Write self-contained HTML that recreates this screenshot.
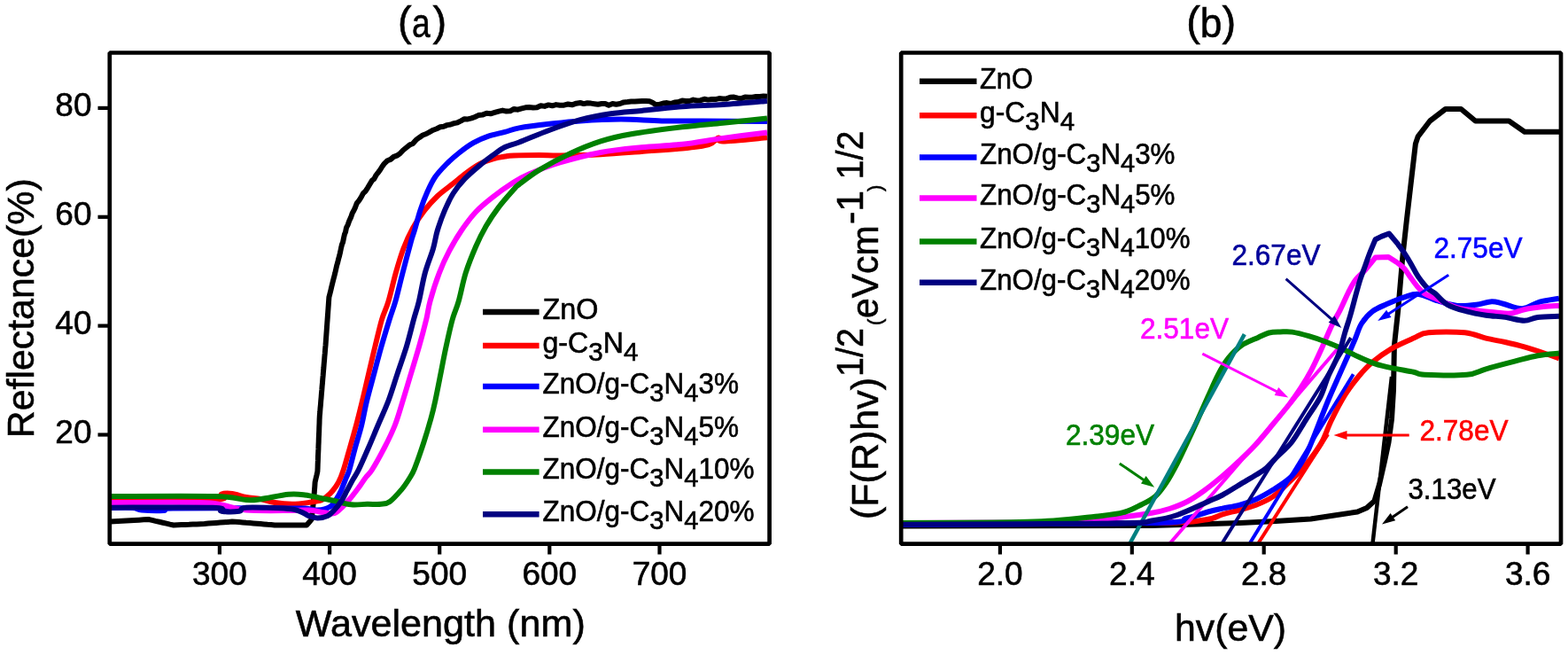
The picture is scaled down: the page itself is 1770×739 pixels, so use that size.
<!DOCTYPE html>
<html><head><meta charset="utf-8"><style>
html,body{margin:0;padding:0;background:#fff;overflow:hidden}
svg{display:block}
</style></head><body>
<svg width="1770" height="739" viewBox="0 0 1770 739"><rect width="1770" height="739" fill="#fff"/><defs><clipPath id="cl"><rect x="124" y="60" width="745" height="554"/></clipPath><clipPath id="cr"><rect x="1017" y="60" width="745" height="554"/></clipPath></defs><g clip-path="url(#cl)"><polyline points="124.0,588.5 128.6,588.2 133.2,588.0 137.8,587.8 142.4,587.5 147.0,587.2 151.6,587.0 156.9,586.7 162.2,586.3 167.5,586.0 171.6,586.9 175.6,587.9 179.7,588.8 183.8,589.7 187.9,590.6 191.9,591.6 196.0,592.5 200.3,592.3 204.7,592.1 209.0,591.9 213.3,591.8 217.7,591.6 222.0,591.4 226.4,591.2 230.7,591.0 235.2,590.6 239.6,590.3 244.1,589.9 248.6,589.6 253.1,589.2 257.5,588.9 262.0,588.5 266.0,588.8 270.0,589.1 274.0,589.4 278.0,589.8 282.0,590.1 286.0,590.4 290.0,590.7 294.0,591.0 298.0,591.4 302.0,591.8 306.0,592.1 310.0,592.5 314.0,592.5 318.0,592.5 322.0,592.5 326.0,592.5 330.0,592.5 334.0,592.5 338.1,592.5 342.1,592.5 346.1,592.5 349.0,589.2 351.8,585.9 352.3,581.3 352.7,576.7 353.2,572.1 353.7,567.6 354.1,563.0 354.6,558.4 354.9,553.7 355.3,548.9 355.6,544.2 356.5,540.1 357.5,536.0 358.4,531.9 358.6,527.7 358.7,523.6 358.9,519.4 359.0,515.2 359.2,511.0 359.4,506.9 359.5,502.7 359.7,498.5 359.8,494.3 360.0,490.2 360.2,486.0 360.3,481.8 360.5,477.6 360.6,473.5 360.8,469.3 361.2,465.1 361.5,460.9 361.9,456.7 362.2,452.6 362.6,448.4 362.9,444.2 363.3,440.0 363.6,435.8 364.0,431.6 364.3,427.5 364.7,423.3 365.0,419.1 365.4,414.9 365.7,410.7 366.1,406.5 366.4,402.4 366.8,398.2 367.1,394.0 367.5,389.8 367.8,385.6 368.1,381.4 368.4,377.2 368.7,373.0 369.0,368.8 369.3,364.6 369.6,360.5 369.9,356.3 370.2,352.1 370.5,347.9 370.8,343.7 371.1,339.5 371.4,335.3 372.4,331.4 373.4,327.4 374.3,323.5 375.3,319.6 376.3,315.6 377.3,311.7 378.3,307.8 379.2,303.9 380.2,299.4 381.2,296.1 382.2,291.8 383.2,288.4 384.1,284.5 385.1,279.5 386.1,275.5 387.1,273.2 388.1,268.1 389.0,264.2 390.0,261.8 391.0,256.8 392.7,253.6 394.3,249.0 396.0,245.4 397.7,240.5 399.4,237.5 401.0,234.1 402.7,229.4 405.2,226.3 407.6,222.6 410.1,217.9 412.6,215.7 415.1,211.8 417.5,207.7 420.0,203.6 422.3,201.8 424.6,197.5 426.9,194.6 429.2,191.5 431.5,187.7 433.8,184.6 437.3,181.3 440.9,179.9 444.4,176.9 447.9,175.7 451.5,173.3 455.0,169.5 458.7,166.5 462.3,163.6 466.0,162.0 469.6,157.9 473.3,155.2 477.2,152.5 481.2,151.0 485.1,148.8 489.0,146.7 493.0,145.2 496.9,143.3 500.8,142.7 504.7,141.1 508.7,140.5 512.6,139.2 516.5,138.3 520.4,136.4 524.3,134.2 528.2,134.4 532.2,133.4 536.1,132.0 540.0,130.1 544.6,129.6 549.2,127.8 553.8,128.3 558.4,126.9 563.0,125.6 567.3,124.6 571.6,125.6 575.9,125.3 580.2,122.9 584.6,123.7 588.9,122.4 593.2,121.3 597.5,121.0 601.8,121.5 606.1,121.3 610.4,119.2 614.8,119.9 619.1,118.4 623.4,119.3 627.7,118.1 632.0,118.8 636.6,118.7 641.2,117.5 645.8,118.3 650.4,116.7 655.0,116.0 659.0,117.1 663.0,116.2 667.1,116.6 671.1,117.2 675.1,117.8 679.2,117.0 683.2,116.9 687.2,118.7 691.4,117.0 695.6,117.8 699.9,117.0 704.1,115.4 708.3,115.0 712.5,114.5 716.6,114.6 720.8,114.3 724.9,114.0 729.1,113.9 733.2,114.3 736.6,115.7 740.0,117.9 744.3,117.9 748.6,116.5 752.9,116.1 757.1,117.0 761.4,115.5 765.7,115.1 770.0,113.5 774.2,114.0 778.4,114.0 782.5,112.6 786.7,113.5 790.9,113.2 795.1,111.8 799.3,112.6 803.5,112.0 807.6,112.1 811.8,111.1 816.0,111.5 820.2,111.4 824.3,109.8 828.5,109.6 832.7,110.7 836.8,111.1 841.0,109.5 845.2,109.7 849.3,109.8 853.5,109.0 857.7,108.9 861.8,108.6 866.0,108.8" fill="none" stroke="#000" stroke-width="6" stroke-linejoin="round" stroke-linecap="butt" /><path d="M124.0,564.0 C143.8,564.0 222.0,565.1 243.0,564.0 C264.0,562.9 246.8,558.7 250.0,557.5 C253.2,556.3 257.3,556.4 262.0,557.0 C266.7,557.6 272.7,560.0 278.0,561.0 C283.3,562.0 288.7,562.0 294.0,563.0 C299.3,564.0 304.0,566.0 310.0,567.0 C316.0,568.0 323.5,568.8 330.0,568.8 C336.5,568.8 343.4,567.7 348.9,566.9 C354.4,566.1 359.6,565.4 363.1,564.1 C366.6,562.9 367.7,561.1 369.8,559.4 C371.9,557.7 373.4,556.2 375.5,553.7 C377.6,551.2 380.1,548.2 382.1,544.2 C384.2,540.2 385.7,536.5 387.8,530.0 C389.9,523.5 392.6,513.3 395.0,505.0 C397.4,496.7 399.6,488.9 402.0,480.0 C404.4,471.1 406.7,461.6 409.1,451.8 C411.5,442.0 413.8,431.5 416.2,421.4 C418.6,411.2 420.9,401.0 423.4,390.9 C425.9,380.8 428.5,369.0 431.0,360.5 C433.5,352.0 435.9,348.7 438.5,339.9 C441.1,331.1 444.0,317.8 446.8,307.9 C449.6,298.0 452.3,288.7 455.5,280.3 C458.7,271.9 462.1,264.5 466.0,257.4 C469.9,250.2 474.6,243.4 479.2,237.4 C483.8,231.4 488.6,226.1 493.8,221.2 C499.0,216.3 504.7,212.5 510.1,208.2 C515.5,203.9 520.9,199.1 526.3,195.2 C531.7,191.2 537.5,187.2 542.6,184.5 C547.8,181.8 552.6,180.3 557.2,179.0 C561.8,177.7 566.2,177.1 570.0,176.5 C573.8,175.9 573.5,175.8 580.0,175.5 C586.5,175.2 600.3,175.0 609.0,175.0 C617.7,175.0 620.5,175.6 632.0,175.5 C643.5,175.4 662.7,175.1 678.0,174.3 C693.3,173.5 708.7,172.1 724.0,170.9 C739.3,169.8 757.3,168.7 770.0,167.4 C782.7,166.1 793.2,165.0 800.0,163.0 C806.8,161.0 808.3,156.1 811.0,155.5 C813.7,154.9 806.8,159.4 816.0,159.4 C825.2,159.4 857.7,156.0 866.0,155.3" fill="none" stroke="#f00" stroke-width="6" stroke-linejoin="round"/><path d="M124.0,573.0 C128.3,573.0 144.0,572.6 150.0,573.0 C156.0,573.4 154.2,575.0 160.0,575.5 C165.8,576.0 179.2,576.3 185.0,576.0 C190.8,575.7 170.8,573.9 195.0,573.5 C219.2,573.1 305.1,573.5 330.0,573.5 C354.9,573.5 339.5,573.3 344.2,573.6 C348.9,573.9 353.7,575.8 358.4,575.5 C363.1,575.2 369.0,573.9 372.6,571.7 C376.2,569.5 378.1,565.2 380.2,562.2 C382.2,559.2 383.2,557.5 384.9,553.7 C386.6,549.9 389.0,543.5 390.6,539.5 C392.2,535.5 392.7,535.8 394.4,530.0 C396.1,524.2 398.7,513.3 401.0,505.0 C403.3,496.7 405.9,488.9 408.1,480.0 C410.3,471.1 411.8,461.6 414.2,451.8 C416.6,442.0 419.6,431.5 422.3,421.4 C425.0,411.2 427.6,401.0 430.5,390.9 C433.4,380.8 437.0,369.0 439.6,360.5 C442.2,352.0 443.9,348.7 446.4,339.9 C448.9,331.1 451.6,319.0 454.5,307.9 C457.4,296.8 461.5,281.4 463.7,273.4 C465.9,265.4 466.1,266.0 467.9,260.0 C469.7,254.0 472.0,244.7 474.4,237.4 C476.8,230.1 479.7,222.5 482.5,216.3 C485.3,210.1 487.5,205.1 491.0,200.0 C494.5,194.9 499.1,190.1 503.6,185.5 C508.1,180.9 513.1,176.6 518.2,172.5 C523.3,168.4 529.0,164.2 534.4,161.1 C539.8,158.0 544.8,155.8 550.7,153.8 C556.6,151.8 564.1,150.5 570.0,148.9 C575.9,147.3 577.6,145.9 586.0,144.4 C594.4,142.9 609.0,141.1 620.5,139.8 C632.0,138.5 641.6,137.3 655.0,136.4 C668.4,135.5 685.7,134.6 701.0,134.6 C716.3,134.6 731.7,136.1 747.0,136.4 C762.3,136.7 773.2,136.3 793.0,136.4 C812.8,136.5 853.8,137.0 866.0,137.1" fill="none" stroke="#00f" stroke-width="6" stroke-linejoin="round"/><path d="M124.0,567.0 C140.8,567.0 204.0,566.6 225.0,567.0 C246.0,567.4 241.2,568.1 250.0,569.5 C258.8,570.9 264.7,574.4 278.0,575.5 C291.3,576.6 318.2,576.0 330.0,576.0 C341.8,576.0 342.9,575.1 348.9,575.5 C354.9,575.9 361.3,577.7 366.0,578.3 C370.7,578.9 373.8,580.3 377.3,579.2 C380.8,578.1 383.6,574.7 386.8,571.7 C390.0,568.7 393.1,565.1 396.3,561.3 C399.5,557.5 403.0,552.7 405.8,548.9 C408.6,545.1 410.6,541.6 413.0,538.5 C415.4,535.4 416.5,535.6 420.0,530.0 C423.5,524.4 429.7,513.3 434.0,505.0 C438.3,496.7 442.2,488.9 445.7,480.0 C449.2,471.1 451.8,461.6 454.8,451.8 C457.9,442.0 460.9,431.5 464.0,421.4 C467.1,411.2 470.2,401.0 473.1,390.9 C476.0,380.8 479.1,369.0 481.2,360.5 C483.3,352.0 483.1,348.7 485.5,339.9 C487.9,331.1 492.2,317.4 495.9,307.9 C499.5,298.3 503.2,290.6 507.4,282.6 C511.6,274.6 516.1,267.0 521.1,259.7 C526.1,252.4 531.5,245.1 537.2,239.0 C543.0,232.9 548.5,228.5 555.6,222.9 C562.7,217.3 573.0,210.1 580.0,205.6 C587.0,201.1 588.8,199.9 597.5,196.2 C606.2,192.5 618.6,187.5 632.0,183.5 C645.4,179.5 662.7,174.9 678.0,172.0 C693.3,169.1 708.7,167.8 724.0,166.3 C739.3,164.8 754.7,164.5 770.0,162.8 C785.3,161.1 800.0,158.1 816.0,155.9 C832.0,153.7 857.7,150.6 866.0,149.5" fill="none" stroke="#f0f" stroke-width="6" stroke-linejoin="round"/><path d="M124.0,560.0 C143.8,560.0 217.3,559.3 243.0,560.0 C268.7,560.7 269.5,563.5 278.0,564.0 C286.5,564.5 286.1,564.2 294.0,563.2 C301.9,562.2 317.3,558.5 325.7,557.7 C334.1,556.9 338.0,557.6 344.2,558.4 C350.4,559.1 357.6,561.1 363.1,562.2 C368.6,563.3 371.8,563.8 377.3,565.0 C382.8,566.2 390.1,568.7 396.3,569.3 C402.5,569.9 408.8,568.9 414.4,568.8 C420.0,568.7 425.7,569.3 430.0,568.8 C434.3,568.3 436.1,568.7 440.0,566.0 C443.9,563.3 449.4,556.9 453.1,552.6 C456.8,548.3 459.5,544.0 462.0,540.0 C464.5,536.0 465.2,535.6 467.9,528.8 C470.6,522.0 475.3,508.5 478.4,499.0 C481.5,489.5 484.3,479.9 486.5,472.0 C488.7,464.1 489.6,460.2 491.4,451.8 C493.2,443.4 495.5,431.5 497.5,421.4 C499.5,411.2 501.4,401.0 503.6,390.9 C505.8,380.8 508.3,369.0 510.7,360.5 C513.0,352.0 515.2,348.7 517.7,339.9 C520.2,331.1 522.5,318.2 525.7,307.9 C529.0,297.6 533.4,286.8 537.2,278.0 C541.0,269.2 544.5,262.4 548.7,255.1 C552.9,247.8 557.3,241.3 562.5,234.4 C567.7,227.5 576.1,218.1 580.0,213.7 C583.9,209.3 581.2,211.7 586.0,208.0 C590.8,204.3 599.4,197.4 609.0,191.6 C618.6,185.8 632.0,178.6 643.5,173.2 C655.0,167.8 666.5,163.1 678.0,159.4 C689.5,155.8 697.2,154.0 712.5,151.3 C727.8,148.6 752.8,145.4 770.0,143.3 C787.2,141.2 800.0,140.3 816.0,138.7 C832.0,137.1 857.7,134.4 866.0,133.6" fill="none" stroke="#008000" stroke-width="6" stroke-linejoin="round"/><path d="M124.0,572.7 C143.3,572.7 219.0,572.0 240.0,572.7 C261.0,573.4 245.0,576.0 250.0,576.7 C255.0,577.4 265.3,577.4 270.0,576.7 C274.7,576.0 268.8,573.2 278.0,572.7 C287.2,572.2 314.8,573.2 325.0,574.0 C335.2,574.8 335.5,575.9 339.5,577.3 C343.5,578.6 345.8,580.9 348.9,582.1 C352.0,583.3 354.9,584.5 358.4,584.5 C361.9,584.5 366.6,583.6 369.8,582.1 C373.0,580.6 374.8,578.2 377.3,575.5 C379.8,572.8 382.5,569.6 384.9,566.0 C387.3,562.4 389.4,557.8 391.6,553.7 C393.8,549.6 396.0,545.4 398.2,541.4 C400.4,537.4 401.8,536.1 404.8,530.0 C407.8,523.9 412.3,513.5 416.0,505.0 C419.7,496.5 423.2,487.9 427.0,479.0 C430.8,470.1 435.0,461.4 438.6,451.8 C442.2,442.2 445.3,431.5 448.7,421.4 C452.1,411.2 455.8,401.0 458.9,390.9 C461.9,380.8 464.7,369.0 467.0,360.5 C469.3,352.0 470.8,348.7 472.9,339.9 C475.0,331.1 477.1,317.8 479.8,307.9 C482.5,298.0 486.7,288.3 489.0,280.3 C491.3,272.3 491.6,267.1 493.8,260.0 C496.0,252.8 499.0,244.4 502.0,237.4 C505.0,230.4 507.9,223.9 511.7,218.0 C515.5,212.1 519.8,206.8 524.7,201.7 C529.6,196.5 535.8,191.4 540.9,187.1 C546.0,182.8 550.8,179.2 555.6,175.7 C560.5,172.2 564.9,168.5 570.0,166.0 C575.1,163.5 577.6,163.7 586.0,160.5 C594.4,157.3 609.0,150.9 620.5,146.7 C632.0,142.5 643.5,138.3 655.0,135.2 C666.5,132.1 678.0,130.0 689.5,128.3 C701.0,126.6 710.6,126.2 724.0,124.9 C737.4,123.6 754.7,121.5 770.0,120.3 C785.3,119.1 800.0,119.1 816.0,118.0 C832.0,116.9 857.7,114.6 866.0,113.9" fill="none" stroke="#000080" stroke-width="6" stroke-linejoin="round"/></g><g clip-path="url(#cr)"><polyline points="1019.0,593.5 1300.0,593.0 1400.0,590.0 1440.0,588.0 1479.6,585.5 1506.0,581.5 1532.3,577.5 1542.9,573.0 1551.5,565.1 1557.0,546.6 1563.0,520.3 1567.5,499.2 1571.0,472.8 1573.0,440.0 1573.9,390.0 1578.2,350.0 1583.3,290.0 1587.7,250.0 1592.5,208.3 1597.9,162.2 1600.6,154.1 1614.1,136.5 1631.7,123.0 1649.3,123.0 1665.5,136.5 1703.4,136.5 1721.0,148.7 1760.0,148.7" fill="none" stroke="#000" stroke-width="6" stroke-linejoin="round" stroke-linecap="butt" /><line x1="1549.5" y1="613" x2="1571" y2="425" stroke="#000" stroke-width="4.5"/><path d="M1019.0,590.5 C1065.8,590.4 1243.2,590.7 1300.0,590.0 C1356.8,589.3 1346.7,588.1 1360.0,586.5 C1373.3,584.9 1373.5,582.1 1380.0,580.3 C1386.5,578.5 1392.6,577.2 1398.9,575.5 C1405.2,573.8 1411.6,572.3 1417.9,569.8 C1424.2,567.3 1430.5,564.8 1436.8,560.4 C1443.1,556.0 1450.4,548.4 1455.8,543.3 C1461.2,538.2 1465.0,534.4 1469.0,530.0 C1473.0,525.6 1476.1,522.1 1480.0,516.8 C1483.9,511.5 1488.7,505.1 1492.5,498.0 C1496.3,490.9 1498.8,482.6 1503.0,474.0 C1507.2,465.4 1512.8,454.4 1517.9,446.2 C1523.0,438.0 1528.2,431.2 1533.4,425.0 C1538.6,418.8 1542.8,414.1 1549.0,408.8 C1555.2,403.5 1563.0,397.9 1570.8,393.3 C1578.6,388.8 1588.8,384.5 1595.7,381.5 C1602.7,378.5 1602.8,376.2 1612.5,375.2 C1622.2,374.1 1642.8,374.1 1653.6,375.2 C1664.4,376.3 1669.8,379.9 1677.4,381.7 C1685.0,383.5 1691.8,384.4 1699.0,386.0 C1706.2,387.6 1713.1,389.2 1720.7,391.4 C1728.3,393.6 1738.0,396.8 1744.5,399.0 C1751.0,401.2 1757.4,403.5 1760.0,404.4" fill="none" stroke="#f00" stroke-width="6" stroke-linejoin="round"/><line x1="1420.3" y1="613" x2="1499" y2="490" stroke="#f00" stroke-width="4"/><path d="M1019.0,592.0 C1065.8,591.7 1246.5,591.2 1300.0,590.0 C1353.5,588.8 1329.4,586.6 1340.0,584.5 C1350.6,582.4 1356.9,579.3 1363.6,577.5 C1370.3,575.7 1374.1,574.9 1380.0,573.6 C1385.9,572.3 1392.6,571.5 1398.9,569.8 C1405.2,568.1 1411.6,566.0 1417.9,563.2 C1424.2,560.4 1430.5,556.8 1436.8,552.8 C1443.1,548.8 1450.6,544.3 1455.8,539.5 C1461.0,534.7 1464.3,529.8 1468.0,524.0 C1471.7,518.2 1474.3,513.2 1478.0,505.0 C1481.7,496.8 1486.3,484.2 1490.0,475.0 C1493.7,465.8 1496.5,458.3 1500.0,450.0 C1503.5,441.7 1507.3,433.3 1511.0,425.0 C1514.7,416.7 1519.0,407.3 1522.2,400.0 C1525.4,392.7 1527.7,387.0 1530.2,381.2 C1532.7,375.4 1533.8,370.0 1537.0,365.0 C1540.2,360.0 1544.5,355.0 1549.2,351.4 C1553.9,347.8 1559.0,346.0 1565.0,343.3 C1571.0,340.6 1578.9,337.2 1585.0,335.3 C1591.1,333.4 1595.2,331.2 1601.6,331.9 C1608.0,332.6 1616.1,337.3 1623.3,339.5 C1630.5,341.7 1637.7,344.2 1644.9,344.9 C1652.1,345.6 1660.1,344.6 1666.6,343.8 C1673.1,343.0 1678.9,340.4 1683.9,340.2 C1689.0,340.0 1691.1,341.5 1696.9,342.8 C1702.7,344.1 1711.7,348.6 1718.5,348.2 C1725.3,347.8 1731.1,342.5 1738.0,340.6 C1744.9,338.7 1756.3,337.4 1760.0,336.7" fill="none" stroke="#00f" stroke-width="6" stroke-linejoin="round"/><line x1="1410.8" y1="613" x2="1527.7" y2="422.3" stroke="#00f" stroke-width="4"/><path d="M1019.0,590.0 C1040.8,589.9 1118.2,589.8 1150.0,589.5 C1181.8,589.2 1191.7,588.9 1210.0,588.0 C1228.3,587.1 1245.0,585.5 1260.0,584.0 C1275.0,582.5 1290.0,580.5 1300.0,578.8 C1310.0,577.1 1313.3,576.1 1320.0,574.0 C1326.7,571.9 1333.5,569.4 1340.0,566.0 C1346.5,562.6 1352.4,558.5 1359.0,553.7 C1365.6,549.0 1372.8,543.1 1379.5,537.5 C1386.2,531.9 1392.6,526.1 1399.0,520.0 C1405.4,513.9 1411.7,507.9 1418.0,501.0 C1424.3,494.1 1430.8,486.0 1437.0,478.5 C1443.2,471.0 1450.2,462.8 1455.5,456.0 C1460.8,449.2 1464.4,443.8 1468.5,437.5 C1472.6,431.2 1476.1,425.6 1480.0,418.2 C1483.9,410.8 1488.2,401.4 1492.0,393.0 C1495.8,384.6 1499.7,374.8 1503.1,367.7 C1506.5,360.6 1509.4,356.4 1512.6,350.1 C1515.8,343.8 1519.2,335.5 1522.1,329.8 C1525.0,324.1 1527.0,320.1 1530.0,316.0 C1533.0,311.9 1536.5,309.7 1540.3,305.5 C1544.0,301.3 1550.5,293.1 1552.5,290.6 L1567.4,289.9 L1576.8,296.0 C1578.2,297.1 1582.5,300.1 1585.0,302.8 C1587.5,305.5 1589.2,308.8 1591.7,312.2 C1594.2,315.6 1597.1,319.9 1599.8,323.1 C1602.5,326.3 1604.6,328.9 1608.0,331.2 C1611.4,333.4 1613.8,334.0 1620.0,336.6 C1626.2,339.2 1637.1,344.8 1644.9,347.1 C1652.7,349.4 1659.4,349.4 1666.6,350.3 C1673.8,351.2 1681.7,351.9 1688.2,352.5 C1694.7,353.1 1700.1,354.2 1705.5,353.6 C1710.9,353.1 1714.6,350.5 1720.7,349.2 C1726.8,347.9 1735.8,346.7 1742.3,346.0 C1748.8,345.3 1757.0,345.1 1760.0,344.9" fill="none" stroke="#f0f" stroke-width="6" stroke-linejoin="round"/><line x1="1320.7" y1="613" x2="1509.5" y2="394" stroke="#f0f" stroke-width="4"/><path d="M1019.0,590.0 C1035.8,589.9 1091.7,589.9 1120.0,589.5 C1148.3,589.1 1169.6,588.6 1189.0,587.5 C1208.4,586.4 1223.3,584.2 1236.5,582.7 C1249.7,581.2 1259.3,580.5 1268.0,578.2 C1276.7,576.0 1282.7,572.2 1288.7,569.2 C1294.7,566.2 1299.5,564.0 1304.2,559.9 C1308.9,555.8 1312.6,550.5 1316.7,544.3 C1320.8,538.1 1325.2,529.8 1329.0,522.5 C1332.8,515.2 1335.8,508.5 1339.5,500.7 C1343.2,492.9 1347.0,484.6 1351.0,475.8 C1355.0,467.0 1359.5,456.6 1363.5,447.8 C1367.5,439.0 1371.2,430.2 1375.0,422.9 C1378.8,415.6 1382.2,409.6 1386.5,404.2 C1390.8,398.8 1395.1,394.1 1400.7,390.2 C1406.3,386.3 1414.7,383.3 1420.0,380.9 C1425.3,378.4 1428.2,376.6 1432.4,375.5 C1436.6,374.4 1440.6,374.6 1445.0,374.5 C1449.4,374.4 1453.3,373.8 1458.7,374.6 C1464.1,375.4 1471.2,377.4 1477.4,379.2 C1483.6,381.0 1489.9,383.1 1496.1,385.5 C1502.3,387.9 1508.5,390.4 1514.7,393.3 C1520.9,396.2 1527.2,399.8 1533.4,402.6 C1539.6,405.5 1545.9,408.3 1552.1,410.4 C1558.3,412.5 1563.5,413.6 1570.8,415.1 C1578.1,416.7 1589.5,418.4 1595.7,419.7 C1601.9,421.0 1598.1,422.3 1608.1,422.8 C1618.1,423.3 1644.2,423.9 1655.7,422.8 C1667.2,421.7 1668.4,418.8 1677.4,416.3 C1686.4,413.8 1700.1,410.2 1709.8,407.7 C1719.5,405.2 1727.4,402.7 1735.8,401.2 C1744.2,399.7 1756.0,399.0 1760.0,398.6" fill="none" stroke="#008000" stroke-width="6" stroke-linejoin="round"/><line x1="1275.5" y1="613" x2="1404.8" y2="377.2" stroke="#008080" stroke-width="4.5"/><path d="M1019.0,591.7 C1059.2,591.5 1213.2,591.2 1260.0,590.5 C1306.8,589.8 1288.5,589.1 1300.0,587.5 C1311.5,585.9 1318.4,584.6 1329.0,581.0 C1339.6,577.4 1355.1,569.8 1363.6,566.0 C1372.1,562.2 1374.1,561.6 1380.0,558.5 C1385.9,555.4 1392.6,550.9 1398.9,547.1 C1405.2,543.3 1412.9,538.9 1417.9,535.8 C1423.0,532.6 1425.2,531.7 1429.2,528.2 C1433.2,524.7 1437.2,519.9 1442.0,515.0 C1446.8,510.1 1452.6,505.9 1458.0,499.0 C1463.4,492.1 1468.9,482.0 1474.3,473.4 C1479.7,464.8 1486.4,455.8 1490.6,447.6 C1494.8,439.4 1496.1,431.9 1499.5,424.0 C1502.9,416.1 1507.9,408.0 1511.0,400.0 C1514.1,392.0 1515.8,383.5 1518.0,376.0 C1520.2,368.5 1522.5,362.0 1524.5,355.0 C1526.5,348.0 1528.4,340.5 1530.2,333.8 C1532.0,327.1 1533.8,320.5 1535.6,314.9 C1537.4,309.3 1539.3,304.8 1541.0,300.0 C1542.7,295.2 1544.1,290.9 1546.0,286.0 C1547.9,281.1 1551.4,272.9 1552.5,270.3 L1559.2,266.9 L1568.0,263.5 L1578.2,275.7 C1579.3,277.3 1582.8,281.8 1585.0,285.2 C1587.2,288.6 1589.5,292.2 1591.7,296.0 C1594.0,299.8 1596.5,304.8 1598.5,308.2 C1600.5,311.6 1601.7,313.4 1603.9,316.3 C1606.2,319.2 1609.3,323.3 1612.0,325.8 C1614.7,328.3 1616.3,328.2 1620.0,331.2 C1623.7,334.2 1628.1,340.4 1634.1,343.8 C1640.0,347.2 1648.5,349.4 1655.7,351.4 C1662.9,353.4 1670.2,354.6 1677.4,355.7 C1684.6,356.8 1691.8,356.9 1699.0,357.9 C1706.2,358.9 1714.6,361.8 1720.7,361.8 C1726.8,361.8 1729.2,358.7 1735.8,357.9 C1742.3,357.1 1756.0,357.0 1760.0,356.8" fill="none" stroke="#000080" stroke-width="6" stroke-linejoin="round"/><line x1="1379.5" y1="613" x2="1524.9" y2="381.1" stroke="#000080" stroke-width="4"/></g><rect x="123.8" y="59.5" width="744.8" height="554.2" fill="none" stroke="#000" stroke-width="4.7" stroke-linejoin="bevel"/><rect x="1017.2" y="59.5" width="744.8" height="554.2" fill="none" stroke="#000" stroke-width="4.7" stroke-linejoin="bevel"/><line x1="247.9" y1="615" x2="247.9" y2="625.5" stroke="#000" stroke-width="4.2"/><line x1="372.1" y1="615" x2="372.1" y2="625.5" stroke="#000" stroke-width="4.2"/><line x1="496.2" y1="615" x2="496.2" y2="625.5" stroke="#000" stroke-width="4.2"/><line x1="620.3" y1="615" x2="620.3" y2="625.5" stroke="#000" stroke-width="4.2"/><line x1="744.5" y1="615" x2="744.5" y2="625.5" stroke="#000" stroke-width="4.2"/><line x1="110.5" y1="490.5" x2="122" y2="490.5" stroke="#000" stroke-width="4.2"/><line x1="110.5" y1="367.6" x2="122" y2="367.6" stroke="#000" stroke-width="4.2"/><line x1="110.5" y1="244.8" x2="122" y2="244.8" stroke="#000" stroke-width="4.2"/><line x1="110.5" y1="121.9" x2="122" y2="121.9" stroke="#000" stroke-width="4.2"/><line x1="1128.9" y1="615" x2="1128.9" y2="625.5" stroke="#000" stroke-width="4.2"/><line x1="1277.8" y1="615" x2="1277.8" y2="625.5" stroke="#000" stroke-width="4.2"/><line x1="1426.7" y1="615" x2="1426.7" y2="625.5" stroke="#000" stroke-width="4.2"/><line x1="1575.7" y1="615" x2="1575.7" y2="625.5" stroke="#000" stroke-width="4.2"/><line x1="1724.6" y1="615" x2="1724.6" y2="625.5" stroke="#000" stroke-width="4.2"/><g font-family="'Liberation Sans', Arial, sans-serif" fill="#000" stroke="#000" stroke-width="0.6"><text x="247.9" y="659.5" font-size="37" text-anchor="middle">300</text><text x="372.1" y="659.5" font-size="37" text-anchor="middle">400</text><text x="496.2" y="659.5" font-size="37" text-anchor="middle">500</text><text x="620.3" y="659.5" font-size="37" text-anchor="middle">600</text><text x="744.5" y="659.5" font-size="37" text-anchor="middle">700</text><text x="103.5" y="500.0" font-size="37" text-anchor="end">20</text><text x="103.5" y="377.1" font-size="37" text-anchor="end">40</text><text x="103.5" y="254.3" font-size="37" text-anchor="end">60</text><text x="103.5" y="131.4" font-size="37" text-anchor="end">80</text><text x="1128.9" y="659.5" font-size="37" text-anchor="middle">2.0</text><text x="1277.8" y="659.5" font-size="37" text-anchor="middle">2.4</text><text x="1426.7" y="659.5" font-size="37" text-anchor="middle">2.8</text><text x="1575.7" y="659.5" font-size="37" text-anchor="middle">3.2</text><text x="1724.6" y="659.5" font-size="37" text-anchor="middle">3.6</text><g stroke="#000" stroke-width="0.6"><text x="448.9" y="40.3" font-size="47" >(</text><text x="465" y="42" font-size="47" textLength="20.7" lengthAdjust="spacingAndGlyphs">a</text><text x="488.4" y="40.3" font-size="47" >)</text><text x="1339.3" y="40.3" font-size="47" >(</text><text x="1354.8" y="41.8" font-size="47" textLength="24.6" lengthAdjust="spacingAndGlyphs">b</text><text x="1379.6" y="40.3" font-size="47" >)</text></g><text x="333.8" y="717.8" font-size="43" textLength="327" lengthAdjust="spacingAndGlyphs">Wavelength (nm)</text><text x="1326" y="723.4" font-size="43" textLength="126" lengthAdjust="spacingAndGlyphs">hv(eV)</text><text transform="translate(37.8,494.3) rotate(-90)" font-size="43" textLength="293" lengthAdjust="spacingAndGlyphs">Reflectance(%)</text><g transform="translate(991,586) rotate(-90)"><text x="0" y="0" font-size="43" textLength="160" lengthAdjust="spacingAndGlyphs">(F(R)hv)</text><text x="161" y="-17" font-size="43" textLength="55" lengthAdjust="spacingAndGlyphs">1/2</text><text x="219" y="4" font-size="22">(</text><text x="227" y="0" font-size="43" textLength="104.5" lengthAdjust="spacingAndGlyphs">eVcm</text><text x="333" y="-17" font-size="43">-1</text><text x="370" y="4" font-size="22">)</text><text x="383.5" y="-17" font-size="43" textLength="55" lengthAdjust="spacingAndGlyphs">1/2</text></g></g><g font-family="'Liberation Sans', Arial, sans-serif" fill="#000" stroke="#000" stroke-width="0.6"><line x1="545" y1="352.0" x2="608.6" y2="352.0" stroke="#000" stroke-width="6.5"/><text x="612.5" y="359.8" font-size="32.5" textLength="63" lengthAdjust="spacingAndGlyphs"><tspan dy="0">ZnO</tspan></text><line x1="545" y1="389.9" x2="608.6" y2="389.9" stroke="#f00" stroke-width="6.5"/><text x="612.5" y="397.7" font-size="32.5" textLength="108" lengthAdjust="spacingAndGlyphs"><tspan dy="0">g-C</tspan><tspan font-size="30" dy="9">3</tspan><tspan dy="-9">N</tspan><tspan font-size="30" dy="9">4</tspan></text><line x1="545" y1="436.0" x2="608.6" y2="436.0" stroke="#00f" stroke-width="6.5"/><text x="612.5" y="443.8" font-size="32.5" textLength="221.5" lengthAdjust="spacingAndGlyphs"><tspan dy="0">ZnO/g-C</tspan><tspan font-size="30" dy="9">3</tspan><tspan dy="-9">N</tspan><tspan font-size="30" dy="9">4</tspan><tspan dy="-9">3%</tspan></text><line x1="545" y1="484.8" x2="608.6" y2="484.8" stroke="#f0f" stroke-width="6.5"/><text x="612.5" y="492.6" font-size="32.5" textLength="221.5" lengthAdjust="spacingAndGlyphs"><tspan dy="0">ZnO/g-C</tspan><tspan font-size="30" dy="9">3</tspan><tspan dy="-9">N</tspan><tspan font-size="30" dy="9">4</tspan><tspan dy="-9">5%</tspan></text><line x1="545" y1="532.5" x2="608.6" y2="532.5" stroke="#008000" stroke-width="6.5"/><text x="612.5" y="540.3" font-size="32.5" textLength="239" lengthAdjust="spacingAndGlyphs"><tspan dy="0">ZnO/g-C</tspan><tspan font-size="30" dy="9">3</tspan><tspan dy="-9">N</tspan><tspan font-size="30" dy="9">4</tspan><tspan dy="-9">10%</tspan></text><line x1="545" y1="580.2" x2="608.6" y2="580.2" stroke="#000080" stroke-width="6.5"/><text x="612.5" y="588" font-size="32.5" textLength="239" lengthAdjust="spacingAndGlyphs"><tspan dy="0">ZnO/g-C</tspan><tspan font-size="30" dy="9">3</tspan><tspan dy="-9">N</tspan><tspan font-size="30" dy="9">4</tspan><tspan dy="-9">20%</tspan></text><line x1="1038" y1="91.7" x2="1102.5" y2="91.7" stroke="#000" stroke-width="6.5"/><text x="1106" y="99.5" font-size="32.5" textLength="60" lengthAdjust="spacingAndGlyphs"><tspan dy="0">ZnO</tspan></text><line x1="1038" y1="130.2" x2="1102.5" y2="130.2" stroke="#f00" stroke-width="6.5"/><text x="1106" y="138" font-size="32.5" textLength="107" lengthAdjust="spacingAndGlyphs"><tspan dy="0">g-C</tspan><tspan font-size="30" dy="9">3</tspan><tspan dy="-9">N</tspan><tspan font-size="30" dy="9">4</tspan></text><line x1="1038" y1="177.5" x2="1102.5" y2="177.5" stroke="#00f" stroke-width="6.5"/><text x="1106" y="185.3" font-size="32.5" textLength="220.5" lengthAdjust="spacingAndGlyphs"><tspan dy="0">ZnO/g-C</tspan><tspan font-size="30" dy="9">3</tspan><tspan dy="-9">N</tspan><tspan font-size="30" dy="9">4</tspan><tspan dy="-9">3%</tspan></text><line x1="1038" y1="223.5" x2="1102.5" y2="223.5" stroke="#f0f" stroke-width="6.5"/><text x="1106" y="231.3" font-size="32.5" textLength="220.5" lengthAdjust="spacingAndGlyphs"><tspan dy="0">ZnO/g-C</tspan><tspan font-size="30" dy="9">3</tspan><tspan dy="-9">N</tspan><tspan font-size="30" dy="9">4</tspan><tspan dy="-9">5%</tspan></text><line x1="1038" y1="272.5" x2="1102.5" y2="272.5" stroke="#008000" stroke-width="6.5"/><text x="1106" y="280.3" font-size="32.5" textLength="237.5" lengthAdjust="spacingAndGlyphs"><tspan dy="0">ZnO/g-C</tspan><tspan font-size="30" dy="9">3</tspan><tspan dy="-9">N</tspan><tspan font-size="30" dy="9">4</tspan><tspan dy="-9">10%</tspan></text><line x1="1038" y1="318.7" x2="1102.5" y2="318.7" stroke="#000080" stroke-width="6.5"/><text x="1106" y="326.5" font-size="32.5" textLength="237.5" lengthAdjust="spacingAndGlyphs"><tspan dy="0">ZnO/g-C</tspan><tspan font-size="30" dy="9">3</tspan><tspan dy="-9">N</tspan><tspan font-size="30" dy="9">4</tspan><tspan dy="-9">20%</tspan></text></g><g font-family="'Liberation Sans', Arial, sans-serif" font-size="32.5"><text x="1390.5" y="299.2" font-size="32.5" fill="#00009a" stroke="#00009a" stroke-width="0.6" textLength="100" lengthAdjust="spacingAndGlyphs">2.67eV</text><text x="1618.5" y="291.4" font-size="32.5" fill="#00f" stroke="#00f" stroke-width="0.6" textLength="100" lengthAdjust="spacingAndGlyphs">2.75eV</text><text x="1287" y="382" font-size="32.5" fill="#f0f" stroke="#f0f" stroke-width="0.6" textLength="100" lengthAdjust="spacingAndGlyphs">2.51eV</text><text x="1203" y="502" font-size="32.5" fill="#008000" stroke="#008000" stroke-width="0.6" textLength="100" lengthAdjust="spacingAndGlyphs">2.39eV</text><text x="1602.5" y="497.3" font-size="32.5" fill="#f00" stroke="#f00" stroke-width="0.6" textLength="100" lengthAdjust="spacingAndGlyphs">2.78eV</text><text x="1589.5" y="563.3" font-size="32.5" fill="#000" stroke="#000" stroke-width="0.6" textLength="99" lengthAdjust="spacingAndGlyphs">3.13eV</text></g><line x1="1451.6" y1="314.6" x2="1504.5580047358449" y2="361.39224022911986" stroke="#000080" stroke-width="3"/><polygon points="1514.3,370.0 1499.7,363.8 1506.4,356.3" fill="#000080"/><line x1="1635.2" y1="310.3" x2="1566.1122157647135" y2="355.034340292348" stroke="#00f" stroke-width="3"/><polygon points="1555.2,362.1 1565.1,349.8 1570.5,358.1" fill="#00f"/><line x1="1357.3" y1="399.1" x2="1442.7109299208769" y2="442.50988500102295" stroke="#f0f" stroke-width="3"/><polygon points="1454.3,448.4 1438.7,446.1 1443.2,437.1" fill="#f0f"/><line x1="1263.8" y1="522.9" x2="1292.45097043581" y2="542.3884773522769" stroke="#008000" stroke-width="3"/><polygon points="1303.2,549.7 1288.0,545.4 1293.6,537.1" fill="#008000"/><line x1="1590.7" y1="491.1" x2="1518.5" y2="491.1" stroke="#f00" stroke-width="3"/><polygon points="1505.5,491.1 1520.5,486.1 1520.5,496.1" fill="#f00"/><line x1="1589" y1="571.7" x2="1570.7362537515737" y2="584.1697301972015" stroke="#000" stroke-width="3"/><polygon points="1560.0,591.5 1569.6,578.9 1575.2,587.2" fill="#000"/></svg>
</body></html>
